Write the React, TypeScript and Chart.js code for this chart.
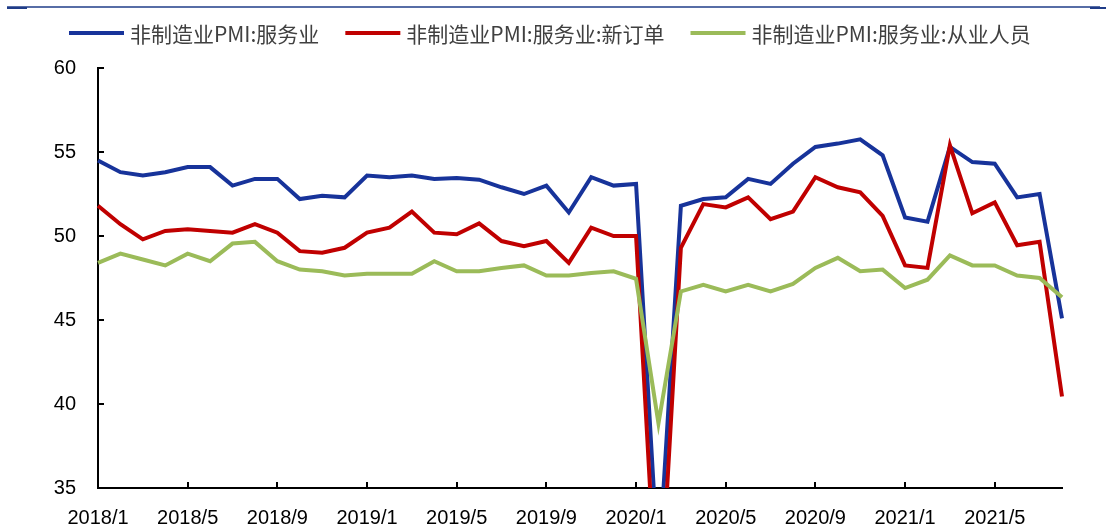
import React, { useEffect, useRef } from "react";
import { Chart, registerables } from "chart.js";

Chart.register(...registerables);

const months = [
  "2018/1", "2018/2", "2018/3", "2018/4", "2018/5", "2018/6", "2018/7", "2018/8", "2018/9", "2018/10", "2018/11", "2018/12",
  "2019/1", "2019/2", "2019/3", "2019/4", "2019/5", "2019/6", "2019/7", "2019/8", "2019/9", "2019/10", "2019/11", "2019/12",
  "2020/1", "2020/2", "2020/3", "2020/4", "2020/5", "2020/6", "2020/7", "2020/8", "2020/9", "2020/10", "2020/11", "2020/12",
  "2021/1", "2021/2", "2021/3", "2021/4", "2021/5", "2021/6", "2021/7", "2021/8",
];

const shownTickLabels = [
  "2018/1", "2018/5", "2018/9", "2019/1", "2019/5", "2019/9",
  "2020/1", "2020/5", "2020/9", "2021/1", "2021/5",
];

const seriesNames = [
  "非制造业PMI:服务业",
  "非制造业PMI:服务业:新订单",
  "非制造业PMI:服务业:从业人员",
];

const services = [
  54.5, 53.8, 53.6, 53.8, 54.1, 54.1, 53.0, 53.4, 53.4, 52.2, 52.4, 52.3,
  53.6, 53.5, 53.6, 53.4, 53.45, 53.35, 52.9, 52.5, 53.0, 51.4, 53.5, 53.0,
  53.1, 30.1, 51.8, 52.2, 52.3, 53.4, 53.1, 54.3, 55.3, 55.5, 55.75, 54.8,
  51.1, 50.85, 55.3, 54.4, 54.3, 52.3, 52.5, 45.1,
];

const newOrders = [
  51.8, 50.7, 49.8, 50.3, 50.4, 50.3, 50.2, 50.7, 50.2, 49.1, 49.0, 49.3,
  50.2, 50.5, 51.45, 50.2, 50.1, 50.75, 49.7, 49.4, 49.7, 48.4, 50.5, 50.0,
  50.0, 26.0, 49.3, 51.9, 51.7, 52.3, 51.0, 51.45, 53.5, 52.9, 52.6, 51.2,
  48.25, 48.1, 55.4, 51.35, 52.0, 49.45, 49.65, 40.45,
];

const employment = [
  48.4, 48.95, 48.6, 48.25, 48.95, 48.5, 49.55, 49.65, 48.5, 48.0, 47.9, 47.65,
  47.75, 47.75, 47.75, 48.5, 47.9, 47.9, 48.1, 48.25, 47.65, 47.65, 47.8, 47.9,
  47.45, 38.85, 46.7, 47.1, 46.7, 47.1, 46.7, 47.15, 48.1, 48.7, 47.9, 48.0,
  46.9, 47.4, 48.85, 48.25, 48.25, 47.65, 47.5, 46.35,
];

const colors = ["#17339a", "#c00000", "#9bbb59"];

const TICK_FONT = "'Liberation Sans', Arial, sans-serif";

const decorPlugin = {
  id: "decor",
  afterDraw(chart: any) {
    const ctx = chart.ctx;
    const area = chart.chartArea;
    ctx.save();
    // header rule
    ctx.strokeStyle = "#1f3c88";
    ctx.lineWidth = 1.5;
    ctx.beginPath();
    ctx.moveTo(7, 7);
    ctx.lineTo(1100, 7);
    ctx.stroke();
    ctx.fillStyle = "#1f3c88";
    ctx.fillRect(7, 7, 20, 2);
    ctx.fillRect(1090, 7, 16, 2);

    // inward tick marks
    ctx.strokeStyle = "#000";
    ctx.lineWidth = 2;
    const ys = chart.scales.y;
    ys.ticks.forEach((t: any) => {
      const py = Math.round(ys.getPixelForValue(t.value));
      ctx.beginPath();
      ctx.moveTo(area.left, py);
      ctx.lineTo(area.left + 6, py);
      ctx.stroke();
    });
    const xs = chart.scales.x;
    const labels = chart.data.labels as string[];
    labels.forEach((lab, i) => {
      if (i === 0 || !shownTickLabels.includes(lab)) return;
      const px = Math.round(xs.getPixelForValue(i));
      ctx.beginPath();
      ctx.moveTo(px, area.bottom);
      ctx.lineTo(px, area.bottom - 6);
      ctx.stroke();
    });

    // legend
    ctx.font = "21px 'Noto Sans CJK SC'";
    ctx.textBaseline = "middle";
    ctx.textAlign = "left";
    let x = 69;
    const y = 33;
    chart.data.datasets.forEach((ds: any) => {
      ctx.strokeStyle = ds.borderColor;
      ctx.lineWidth = 4;
      ctx.beginPath();
      ctx.moveTo(x, y);
      ctx.lineTo(x + 55, y);
      ctx.stroke();
      x += 61;
      ctx.fillStyle = "#404040";
      ctx.fillText(ds.label, x, y + 1);
      x += ctx.measureText(ds.label).width + 26;
    });
    ctx.restore();
  },
};

export default function App() {
  const ref = useRef<HTMLCanvasElement>(null);

  useEffect(() => {
    if (!ref.current) return;
    const seriesData = [services, newOrders, employment];
    const chart = new Chart(ref.current, {
      type: "line",
      data: {
        labels: months,
        datasets: seriesNames.map((name, i) => ({
          label: name,
          data: seriesData[i],
          borderColor: colors[i],
          backgroundColor: colors[i],
          borderWidth: 4,
          pointRadius: 0,
          tension: 0,
          fill: false,
          order: 3 - i,
        })),
      },
      options: {
        animation: false,
        responsive: true,
        maintainAspectRatio: false,
        layout: { padding: { top: 68, right: 44, left: 0, bottom: 0 } },
        plugins: {
          legend: { display: false },
          tooltip: { enabled: false },
          title: { display: false },
        },
        scales: {
          x: {
            type: "category",
            offset: false,
            grid: { display: false },
            border: { display: true, color: "#000", width: 2 },
            ticks: {
              autoSkip: false,
              maxRotation: 0,
              minRotation: 0,
              padding: 10,
              color: "#000",
              font: { family: TICK_FONT, size: 20 },
              callback: function (this: any, _v: any, index: number) {
                const lab = months[index];
                return shownTickLabels.includes(lab) ? lab : "";
              },
            },
            afterFit: (s: any) => {
              s.height = 44;
            },
          },
          y: {
            min: 35,
            max: 60,
            grid: { display: false },
            border: { display: true, color: "#000", width: 2 },
            ticks: {
              stepSize: 5,
              padding: 14,
              color: "#000",
              font: { family: TICK_FONT, size: 20 },
            },
            afterFit: (s: any) => {
              s.width = 98;
            },
          },
        },
      },
      plugins: [decorPlugin],
    });
    return () => chart.destroy();
  }, []);

  return (
    <div style={{ position: "absolute", left: 0, top: 0, width: 1106, height: 532, background: "#fff" }}>
      <canvas ref={ref} />
    </div>
  );
}
